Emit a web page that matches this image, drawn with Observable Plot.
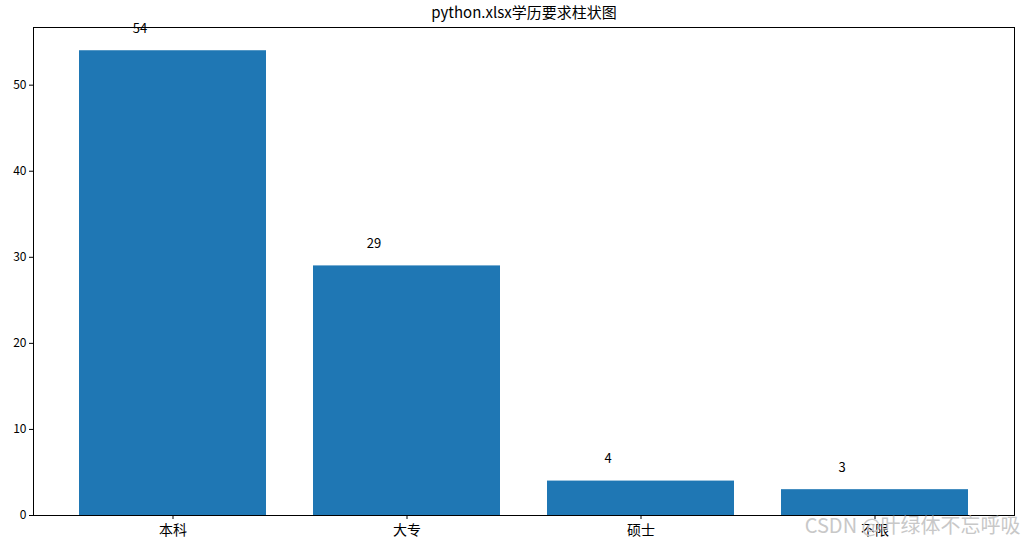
<!DOCTYPE html>
<html>
<head>
<meta charset="utf-8">
<script src="https://cdn.jsdelivr.net/npm/d3@7"></script>
<script src="https://cdn.jsdelivr.net/npm/@observablehq/plot@0.6"></script>
<style>
  html, body { margin: 0; padding: 0; background: #fff; }
  svg { display: block; }
</style>
</head>
<body>
<div id="chart"></div>
<script>
const categories = ["本科", "大专", "硕士", "不限"];
const counts = [54, 29, 4, 3];
const yTicks = [0, 10, 20, 30, 40, 50];
const title = "python.xlsx学历要求柱状图";
const watermark = "CSDN @叶绿体不忘呼吸";

const data = categories.map((c, i) => ({ category: c, count: counts[i] }));
const font = "'Noto Sans CJK SC', 'DejaVu Sans', sans-serif";

const chart = Plot.plot({
  width: 1024,
  height: 544,
  marginLeft: 33,
  marginRight: 10,
  marginTop: 27,
  marginBottom: 29,
  style: { fontFamily: font, fontSize: "12px", color: "#000", background: "#fff" },
  x: { type: "band", domain: categories, paddingInner: 0.2, paddingOuter: 0.19, label: null, tickSize: 4 },
  y: { domain: [0, 56.7], ticks: yTicks, label: null, tickSize: 4 },
  marks: [
    Plot.barY(data, { x: "category", y: "count", fill: "#1f77b4" }),
    Plot.text(data, { x: "category", y: "count", text: d => String(d.count), dx: -33, dy: -22, fontSize: 13, fill: "#000" }),
    Plot.frame({ stroke: "#000", strokeWidth: 1 }),
    Plot.axisX({ tickSize: 4, tickPadding: 6, fontSize: 14, label: null }),
    Plot.axisY({ ticks: yTicks, tickSize: 4, tickPadding: 3, fontSize: 12, label: null }),
    Plot.text([title], { frameAnchor: "top", lineAnchor: "middle", text: d => d, dy: -14, fontSize: 15, fill: "#000" }),
    Plot.text([watermark], { frameAnchor: "bottom-right", lineAnchor: "middle", text: d => d, dx: 6, dy: 11, fontSize: 20, fill: "#c8c8c8", textAnchor: "end" })
  ]
});
document.getElementById("chart").appendChild(chart);
</script>
</body>
</html>
